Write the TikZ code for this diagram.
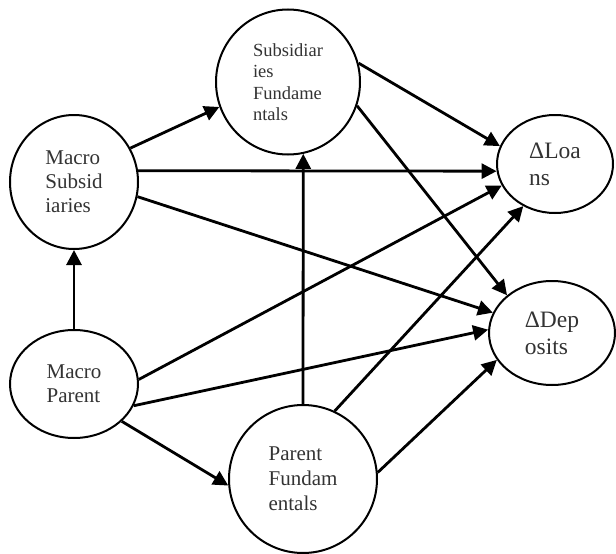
\documentclass[tikz,border=0pt]{standalone}
\usepackage{fontspec}
\setmainfont{Liberation Serif}
\usetikzlibrary{shapes.geometric, arrows.meta}

\begin{document}
\begin{tikzpicture}[x=1pt, y=-1pt,
    bubble/.style={ellipse, draw, line width=2pt, inner sep=0pt, align=left, text=black!80},
    link/.style={line width=2.8pt, -{Triangle[length=15pt, width=15pt]}}]
    \useasboundingbox (0,0) rectangle (616,554);
    % variables
    \node[bubble, minimum width=128pt, minimum height=134pt, font=\fontsize{21}{24}\selectfont] (ms) at (74,182) {Macro\\Subsid\\iaries};
    \node[bubble, minimum width=144pt, minimum height=145pt, font=\fontsize{18.5}{21.5}\selectfont] (sf) at (288,82) {\\[-8pt]Subsidiar\\ies\\Fundame\\ntals};
    \node[bubble, minimum width=116pt, minimum height=98pt, font=\fontsize{23.5}{27}\selectfont] (dl) at (555,164) {ΔLoa\\ns};
    \node[bubble, minimum width=126pt, minimum height=104pt, font=\fontsize{23.5}{27}\selectfont] (dd) at (552,333) {ΔDep\\osits};
    \node[bubble, minimum width=128pt, minimum height=108pt, font=\fontsize{21}{24}\selectfont] (mp) at (74,384) {Macro\\Parent};
    \node[bubble, minimum width=148pt, minimum height=148pt, font=\fontsize{21}{25}\selectfont] (pf) at (303,479) {Parent\\Fundam\\entals};
    % effects
    \draw[link] (ms.31) -- (sf.200);
    \draw[link] (ms.10) -- (dl.187);
    \draw[link] (ms.-13) -- (dd.161);
    \draw[link] (sf.15) -- (dl.162);
    \draw[link] (sf.-19) -- (dd.140);
    \draw[link] (mp.north) -- (ms.south);
    \draw[link] (mp.4) -- (dl.202);
    \draw[link] (mp.-20) -- (dd.177);
    \draw[link] (mp.-38) -- (pf.185);
    \draw[link] (pf.north) -- (sf.-78);
    \draw[link] (pf.65) -- (dl.233);
    \draw[link] (pf.5) -- (dd.206);
\end{tikzpicture}
\end{document}
